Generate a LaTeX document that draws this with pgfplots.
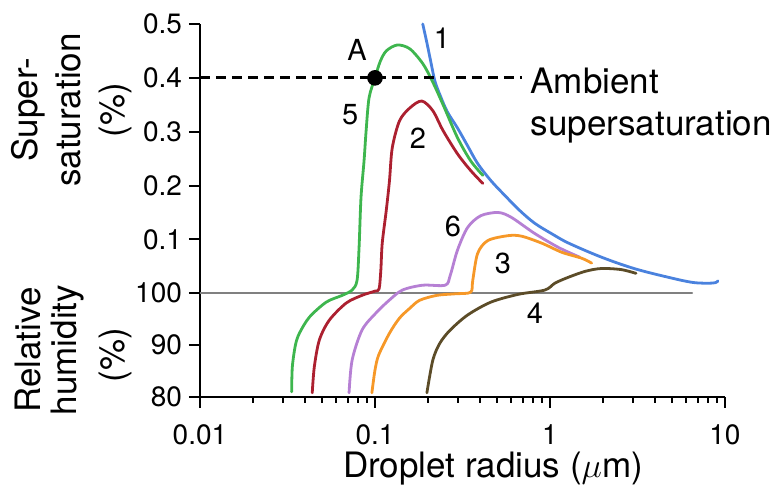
\documentclass[border=0pt]{standalone}
\usepackage{fontspec}
\setmainfont{TeX Gyre Heros}
\usepackage{pgfplots}
\pgfplotsset{compat=1.18}

\definecolor{cBlue}{RGB}{74,130,222}
\definecolor{cGreen}{RGB}{62,182,78}
\definecolor{cRed}{RGB}{172,32,48}
\definecolor{cPurple}{RGB}{182,128,212}
\definecolor{cOrange}{RGB}{246,152,40}
\definecolor{cBrown}{RGB}{92,76,40}
\definecolor{cGrey}{RGB}{128,128,128}

\begin{document}
\begin{tikzpicture}
\begin{axis}[
  scale only axis,
  width=262.5pt, height=186.5pt,
  xmode=log, xmin=0.01, xmax=10,
  ymin=-1.926, ymax=5,
  axis x line*=bottom, axis y line*=left,
  axis line style={-, line width=1.2pt, black},
  tick align=outside,
  xtick pos=bottom, ytick pos=left,
  major tick length=5.5pt,
  major tick style={draw=black, line width=1pt},
  xtick={0.01,0.1,1,10}, xticklabels={0.01,0.1,1,10},
  % lower band: relative humidity 80-100 %, upper band: supersaturation 0-0.5 %
  ytick={-1.926,-0.963,0,1,2,3,4,5},
  yticklabels={80,90,100,0.1,0.2,0.3,0.4,0.5},
  y filter/.expression={y>50 ? (y-100)*0.0963 : y*10},
  /pgf/number format/assume math mode=true,
  tick label style={font=\fontsize{14}{16}\selectfont},
  xticklabel style={yshift=-5pt},
  clip=false,
  every axis plot/.append style={line width=1.4pt, line join=round, line cap=round},
]
% saturation line (RH = 100 %)
\addplot[cGrey, line width=0.8pt] coordinates {(0.01,100) (6.5,100)};

% curve 1
\addplot[cBlue, smooth, tension=0.55] coordinates {
  (0.1875,0.50) (0.198,0.465) (0.209,0.428) (0.220,0.394) (0.236,0.367)
  (0.259,0.337) (0.296,0.307) (0.338,0.274) (0.386,0.241) (0.460,0.209)
  (0.547,0.183) (0.670,0.154) (0.818,0.130) (1.03,0.110) (1.28,0.093)
  (1.97,0.067) (3.02,0.046) (4.70,0.030) (6.59,0.020) (8.55,0.019)
  (9.12,0.023)};

% curve 5
\addplot[cGreen, smooth, tension=0.5] coordinates {
  (0.0334,81.0) (0.0337,85.8) (0.0351,90.0) (0.037,92.3) (0.0422,95.4)
  (0.0527,98.3) (0.065,99.6) (0.074,0.006) (0.079,0.024) (0.0811,0.085)
  (0.0832,0.178) (0.0866,0.246) (0.089,0.302) (0.0925,0.363) (0.1,0.40)
  (0.107,0.43) (0.116,0.45) (0.134,0.461) (0.158,0.454) (0.188,0.426)
  (0.214,0.392) (0.245,0.350) (0.296,0.289) (0.352,0.246) (0.413,0.219)};

% curve 2
\addplot[cRed, smooth, tension=0.5] coordinates {
  (0.0438,80.8) (0.045,85.8) (0.0481,91.0) (0.0548,94.8) (0.0684,98.1)
  (0.0843,99.6) (0.1,0.004) (0.1055,0.008) (0.108,0.043) (0.11,0.093)
  (0.116,0.154) (0.121,0.209) (0.1255,0.27) (0.138,0.32) (0.158,0.344)
  (0.185,0.357) (0.214,0.339) (0.245,0.302) (0.296,0.259) (0.352,0.228)
  (0.413,0.204)};

% curve 6
\addplot[cPurple, smooth, tension=0.5] coordinates {
  (0.0711,80.8) (0.074,87.1) (0.0843,92.9) (0.1013,96.2) (0.1205,98.65)
  (0.1435,0.006) (0.1875,0.015) (0.252,0.015) (0.269,0.033) (0.296,0.08)
  (0.338,0.122) (0.402,0.144) (0.505,0.15) (0.601,0.141) (0.818,0.111)
  (1.12,0.085) (1.48,0.067)};

% curve 3
\addplot[cOrange, smooth, tension=0.5] coordinates {
  (0.096,80.8) (0.1,85.2) (0.105,88.1) (0.121,92.3) (0.138,95.2)
  (0.158,97.1) (0.18,98.65) (0.226,99.6) (0.288,99.9) (0.352,0.002)
  (0.362,0.024) (0.386,0.074) (0.442,0.098) (0.578,0.107) (0.688,0.106)
  (0.898,0.093) (1.17,0.076) (1.52,0.065) (1.73,0.056)};

% curve 4
\addplot[cBrown, smooth, tension=0.5] coordinates {
  (0.198,80.8) (0.214,87.1) (0.235,90.4) (0.269,92.9) (0.338,95.8)
  (0.46,98.3) (0.66,99.8) (0.935,0.006) (1.07,0.019) (1.28,0.030)
  (1.6,0.041) (1.97,0.046) (2.55,0.044) (3.1,0.037)};

% ambient supersaturation
\addplot[black, line width=1.4pt, dash pattern=on 5pt off 3pt, line cap=butt] coordinates {(0.01,0.4) (0.69,0.4)};
\addplot[black, only marks, mark=*, mark size=3.2pt] coordinates {(0.1,0.4)};

\begin{scope}[every node/.style={font=\fontsize{14.5}{16}\selectfont, inner sep=0pt}]
\node at (rel axis cs:0.461,0.962) {1};
\node at (rel axis cs:0.286,0.756) {5};
\node at (rel axis cs:0.415,0.694) {2};
\node at (rel axis cs:0.482,0.456) {6};
\node at (rel axis cs:0.577,0.359) {3};
\node at (rel axis cs:0.638,0.225) {4};
\node at (rel axis cs:0.299,0.930) {A};
\end{scope}
\node[anchor=base west, inner sep=0pt, font=\fontsize{17.5}{20}\selectfont] at (rel axis cs:0.629,0.815) {Ambient};
\node[anchor=base west, inner sep=0pt, font=\fontsize{17.5}{20}\selectfont] at (rel axis cs:0.629,0.700) {supersaturation};
\end{axis}

% tick marks: axis box is 262.5pt x 186.5pt, three decades across
\begin{scope}[black, line width=1pt, line cap=butt]
\foreach \d in {0,87.5,175,262.5}
  \draw (\d pt,0) -- (\d pt,-5.5pt);
\foreach \d in {0,87.5,175}
  \foreach \k in {2,...,9}{
    \pgfmathsetmacro{\tx}{\d+87.5*log10(\k)}
    \draw (\tx pt,0) -- (\tx pt,-3pt);
  }
\foreach \y in {0,25.93,51.86,78.79,105.72,132.64,159.57,186.5}
  \draw (0,\y pt) -- (-5.5pt,\y pt);
\end{scope}

% axis titles
\begin{scope}[every node/.style={rotate=90, inner sep=0pt, font=\fontsize{17.5}{20}\selectfont}]
\node at (-86pt,143.5pt) {Super-};
\node at (-66pt,143.5pt) {saturation};
\node at (-42.5pt,143.5pt) {(\%)};
\node at (-86pt,23.5pt) {Relative};
\node at (-66pt,23.5pt) {humidity};
\node at (-42.5pt,21pt) {(\%)};
\end{scope}
\node[inner sep=0pt, font=\fontsize{17.5}{20}\selectfont] at (146.5pt,-36pt) {Droplet radius ($\mu$m)};

\pgfresetboundingbox
\useasboundingbox (-100pt,-44.5pt) rectangle (290.5pt,198.5pt);
\end{tikzpicture}
\end{document}
